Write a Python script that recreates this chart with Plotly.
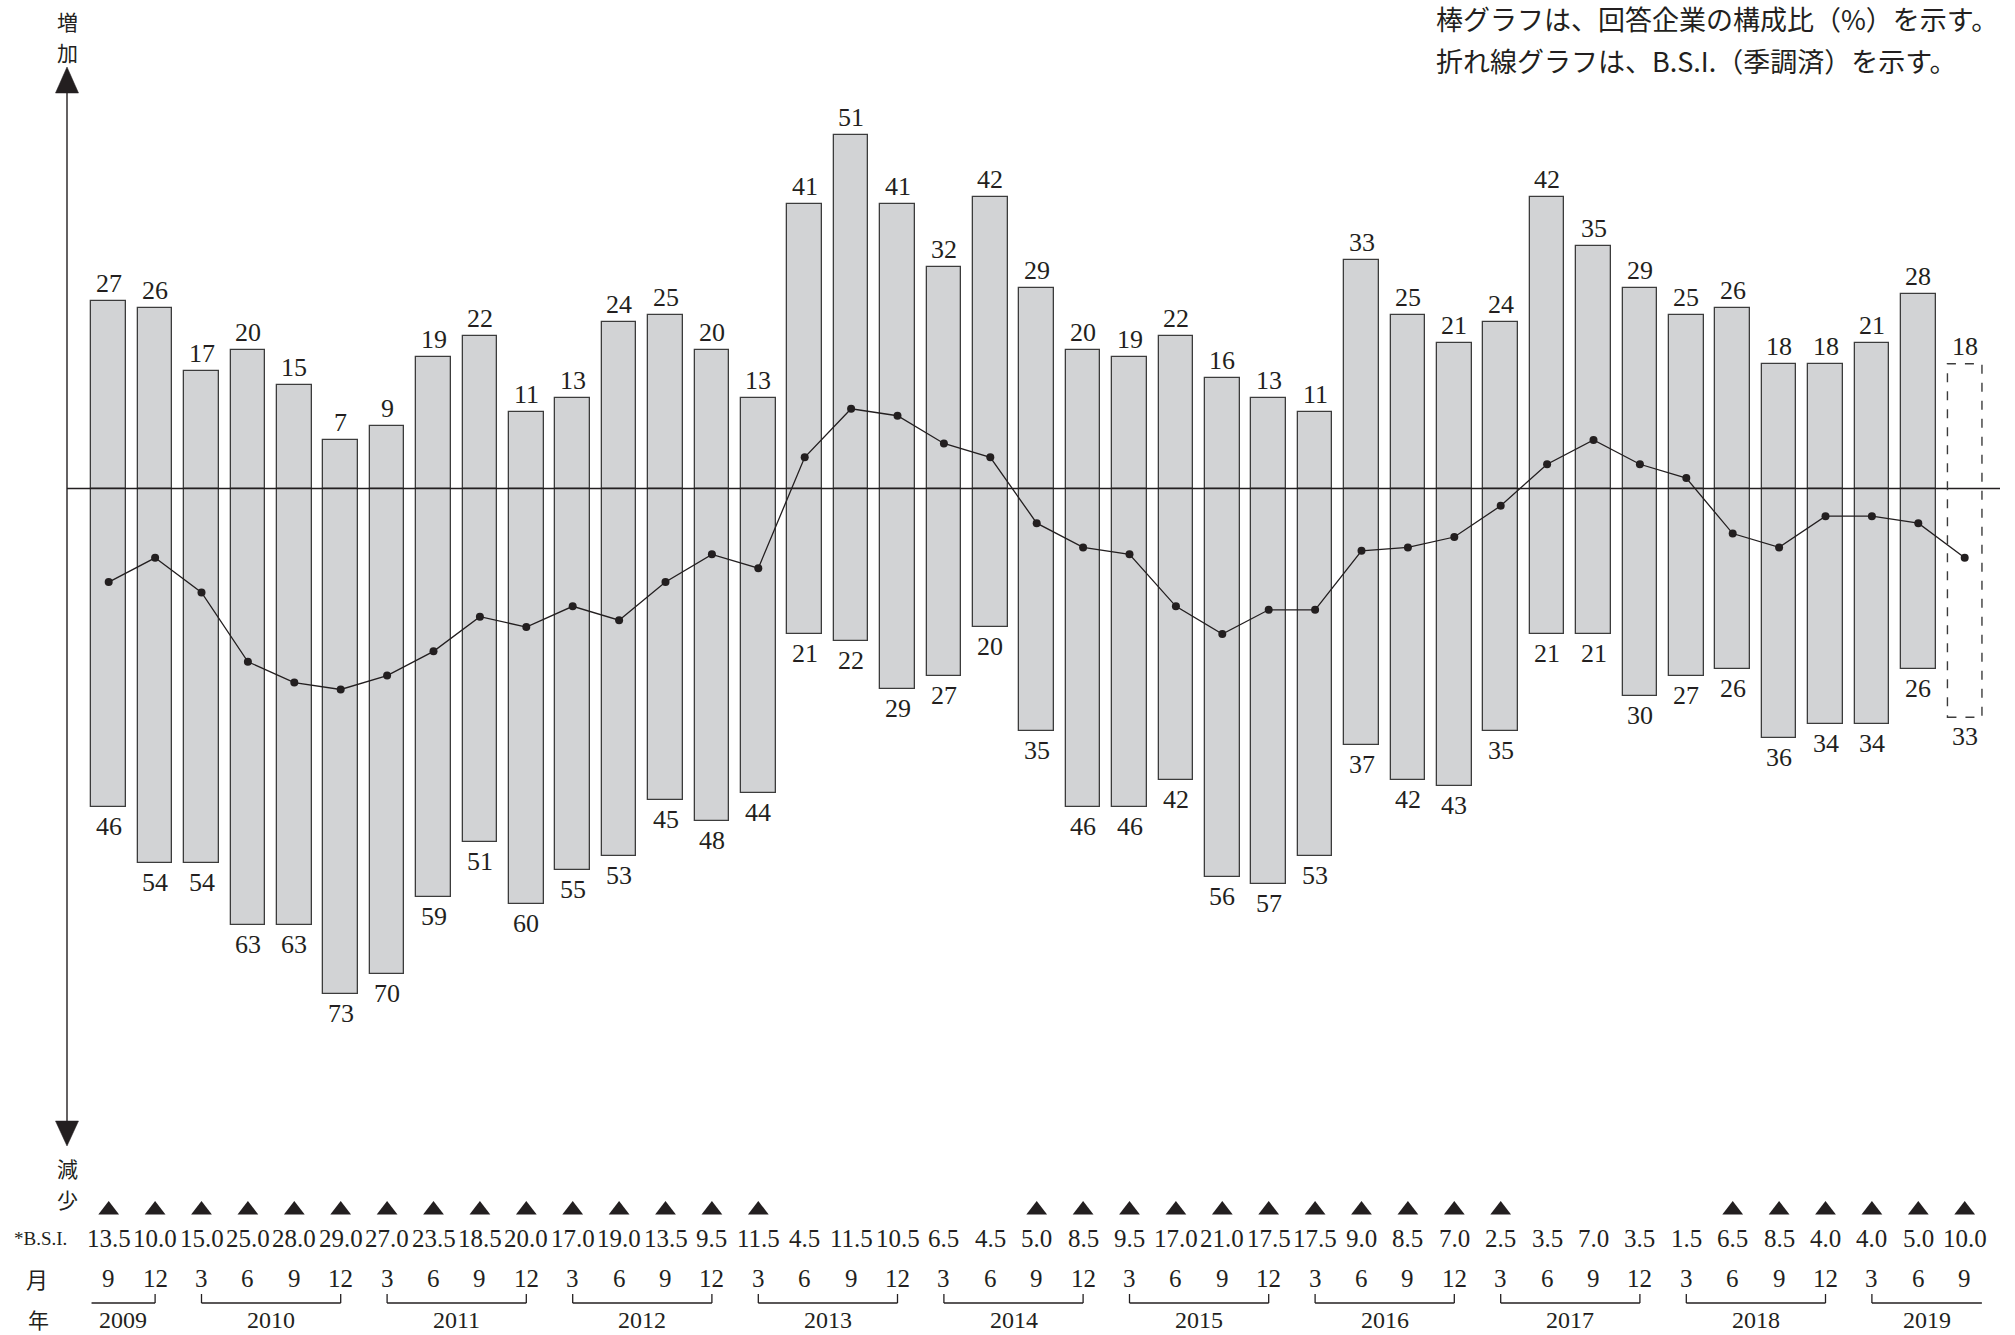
import plotly.graph_objects as go

# ---------------- data ----------------
months = [9, 12,
          3, 6, 9, 12, 3, 6, 9, 12, 3, 6, 9, 12, 3, 6, 9, 12, 3, 6, 9, 12,
          3, 6, 9, 12, 3, 6, 9, 12, 3, 6, 9, 12, 3, 6, 9, 12,
          3, 6, 9]
qyears = ([2009] * 2 + [2010] * 4 + [2011] * 4 + [2012] * 4 + [2013] * 4 + [2014] * 4
          + [2015] * 4 + [2016] * 4 + [2017] * 4 + [2018] * 4 + [2019] * 3)
years = [2009, 2010, 2011, 2012, 2013, 2014, 2015, 2016, 2017, 2018, 2019]

# 増加 (increase) share, %
up = [27, 26, 17, 20, 15, 7, 9, 19, 22, 11,
      13, 24, 25, 20, 13, 41, 51, 41, 32, 42,
      29, 20, 19, 22, 16, 13, 11, 33, 25, 21,
      24, 42, 35, 29, 25, 26, 18, 18, 21, 28,
      18]
# 減少 (decrease) share, %
down = [46, 54, 54, 63, 63, 73, 70, 59, 51, 60,
        55, 53, 45, 48, 44, 21, 22, 29, 27, 20,
        35, 46, 46, 42, 56, 57, 53, 37, 42, 43,
        35, 21, 21, 30, 27, 26, 36, 34, 34, 26,
        33]
# B.S.I. (seasonally adjusted); negatives shown with ▲ in the table
bsi = [-13.5, -10.0, -15.0, -25.0, -28.0, -29.0, -27.0, -23.5, -18.5, -20.0,
       -17.0, -19.0, -13.5, -9.5, -11.5, 4.5, 11.5, 10.5, 6.5, 4.5,
       -5.0, -8.5, -9.5, -17.0, -21.0, -17.5, -17.5, -9.0, -8.5, -7.0,
       -2.5, 3.5, 7.0, 3.5, 1.5, -6.5, -8.5, -4.0, -4.0, -5.0,
       -10.0]
n_actual = 40  # last column is a forecast (dashed bar)

header1 = "棒グラフは、回答企業の構成比（%）を示す。"
header2 = "折れ線グラフは、B.S.I.（季調済）を示す。"

# ---------------- layout helpers ----------------
W, H = 2015, 1335
X0_PX, DX_PX = 108.7, 46.4        # pixel centre of first column, column pitch
ZERO_PX, UNIT_PX = 488.5, 6.93     # pixel row of zero line, pixels per %
xmin = -X0_PX / DX_PX
xmax = xmin + W / DX_PX
ymax = ZERO_PX / UNIT_PX
ymin = ymax - H / UNIT_PX

def px(x):
    return x / W

def py(y):
    return 1 - y / H

NUM_FONT = "Liberation Serif"
JP_FONT = "Noto Sans CJK JP"
INK = "#231f20"
BAR_FILL = "#d2d3d5"
BAR_EDGE = "#3c3c3c"
BW = 0.744

idx = list(range(len(up)))
fig = go.Figure()

# actual bars
fig.add_trace(go.Bar(x=idx[:n_actual], y=up[:n_actual], width=BW,
                     marker=dict(color=BAR_FILL, line=dict(color=BAR_EDGE, width=1.3)),
                     hoverinfo="skip", showlegend=False))
fig.add_trace(go.Bar(x=idx[:n_actual], y=[-d for d in down[:n_actual]], width=BW,
                     marker=dict(color=BAR_FILL, line=dict(color=BAR_EDGE, width=1.3)),
                     hoverinfo="skip", showlegend=False))
# forecast bar (white, outline drawn dashed below)
fig.add_trace(go.Bar(x=idx[n_actual:], y=up[n_actual:], width=BW,
                     marker=dict(color="white", line=dict(color="white", width=0)),
                     hoverinfo="skip", showlegend=False))
fig.add_trace(go.Bar(x=idx[n_actual:], y=[-d for d in down[n_actual:]], width=BW,
                     marker=dict(color="white", line=dict(color="white", width=0)),
                     hoverinfo="skip", showlegend=False))

# zero line
fig.add_shape(type="line", xref="paper", yref="y", x0=px(67), x1=px(2000), y0=0, y1=0,
              line=dict(color=INK, width=1.4))

# dashed outline for forecast column
for k in idx[n_actual:]:
    fig.add_shape(type="rect", xref="x", yref="y", x0=k - BW / 2, x1=k + BW / 2,
                  y0=-down[k], y1=up[k], line=dict(color=BAR_EDGE, width=1.4, dash="dash"),
                  fillcolor="rgba(0,0,0,0)")

# B.S.I. line
fig.add_trace(go.Scatter(x=idx, y=bsi, mode="lines+markers",
                         line=dict(color=INK, width=1.3),
                         marker=dict(color=INK, size=8),
                         hoverinfo="skip", showlegend=False))

# secondary pixel axis for table triangles
tri_x = [i for i, v in enumerate(bsi) if v < 0]
fig.add_trace(go.Scatter(x=tri_x, y=[1210] * len(tri_x), yaxis="y2", mode="markers",
                         marker=dict(symbol="triangle-up", size=18, color=INK),
                         hoverinfo="skip", showlegend=False))

def A(**kw):
    d = dict(showarrow=False, xanchor="center", yanchor="middle")
    d.update(kw)
    return d

ann = []
# bar value labels
for i in idx:
    ann.append(A(x=i, y=up[i], xref="x", yref="y", text=str(up[i]),
                 yanchor="bottom", yshift=1, font=dict(family=NUM_FONT, size=26, color=INK)))
    ann.append(A(x=i, y=-down[i], xref="x", yref="y", text=str(down[i]),
                 yanchor="top", yshift=-3, font=dict(family=NUM_FONT, size=26, color=INK)))

# table rows
for i in idx:
    ann.append(A(x=i, y=py(1238), xref="x", yref="paper", text=f"{abs(bsi[i]):.1f}",
                 font=dict(family=NUM_FONT, size=25, color=INK)))
    ann.append(A(x=i, y=py(1278), xref="x", yref="paper", text=str(months[i]),
                 font=dict(family=NUM_FONT, size=25, color=INK)))

ann.append(A(x=px(40), y=py(1238), xref="paper", yref="paper", text="*B.S.I.",
             font=dict(family=NUM_FONT, size=19, color=INK)))
ann.append(A(x=px(37), y=py(1278), xref="paper", yref="paper", text="月",
             font=dict(family=JP_FONT, size=22, color=INK)))
ann.append(A(x=px(38), y=py(1319), xref="paper", yref="paper", text="年",
             font=dict(family=JP_FONT, size=21, color=INK)))

# year brackets
BR_Y, TICK_Y, EXT = py(1303), py(1294), 0.37
for yr in years:
    cols = [i for i, q in enumerate(qyears) if q == yr]
    a, b = cols[0], cols[-1]
    left_tick = months[a] == 3
    right_tick = months[b] == 12
    xa = a if left_tick else a - EXT
    xb = b if right_tick else b + EXT
    fig.add_shape(type="line", xref="x", yref="paper", x0=xa, x1=xb, y0=BR_Y, y1=BR_Y,
                  line=dict(color=INK, width=1.3))
    if left_tick:
        fig.add_shape(type="line", xref="x", yref="paper", x0=a, x1=a, y0=BR_Y, y1=TICK_Y,
                      line=dict(color=INK, width=1.3))
    if right_tick:
        fig.add_shape(type="line", xref="x", yref="paper", x0=b, x1=b, y0=BR_Y, y1=TICK_Y,
                      line=dict(color=INK, width=1.3))
    ann.append(A(x=(xa + xb) / 2, y=py(1320), xref="x", yref="paper", text=str(yr),
                 font=dict(family=NUM_FONT, size=24, color=INK)))

# vertical axis with arrows
AX = 67
fig.add_shape(type="line", xref="paper", yref="paper", x0=px(AX), x1=px(AX),
              y0=py(92), y1=py(1123), line=dict(color=INK, width=1.4))
fig.add_shape(type="path", xref="paper", yref="paper",
              path=f"M {px(AX)} {py(67)} L {px(AX - 11.5)} {py(93)} L {px(AX + 11.5)} {py(93)} Z",
              fillcolor=INK, line=dict(color=INK, width=0.5))
fig.add_shape(type="path", xref="paper", yref="paper",
              path=f"M {px(AX)} {py(1146)} L {px(AX - 11.5)} {py(1121)} L {px(AX + 11.5)} {py(1121)} Z",
              fillcolor=INK, line=dict(color=INK, width=0.5))
for ch, yy in [("増", 21), ("加", 52), ("減", 1168), ("少", 1199)]:
    ann.append(A(x=px(AX), y=py(yy), xref="paper", yref="paper", text=ch,
                 font=dict(family=JP_FONT, size=21, color=INK)))

# header notes
ann.append(A(x=px(1434), y=py(19), xref="paper", yref="paper", text=header1,
             xanchor="left", font=dict(family=JP_FONT, size=27, color=INK)))
ann.append(A(x=px(1434), y=py(60), xref="paper", yref="paper", text=header2,
             xanchor="left", font=dict(family=JP_FONT, size=27, color=INK)))

fig.update_layout(
    width=W, height=H, margin=dict(l=0, r=0, t=0, b=0),
    paper_bgcolor="white", plot_bgcolor="white",
    barmode="overlay", bargap=0,
    xaxis=dict(range=[xmin, xmax], visible=False, fixedrange=True),
    yaxis=dict(range=[ymin, ymax], visible=False, fixedrange=True),
    yaxis2=dict(range=[H, 0], visible=False, overlaying="y", fixedrange=True),
    annotations=ann,
)

fig.write_html("out.html", config={"displayModeBar": False},
               post_script="document.body.style.margin='0';document.body.style.overflow='hidden';")
